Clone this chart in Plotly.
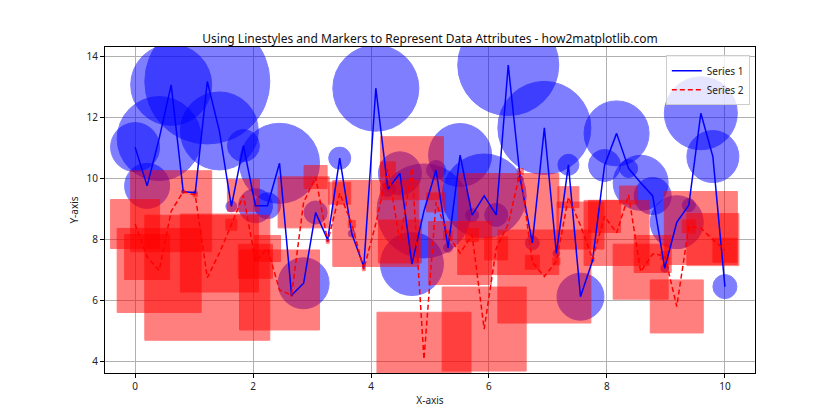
import numpy as np
import plotly.graph_objects as go

# ---- data ----
n_points = 50
x_values = np.linspace(0, 10, n_points)

series1_y = [11.02, 9.75, 11.30, 13.06, 9.56, 9.53, 13.17, 11.55, 9.08, 11.07,
             9.10, 9.10, 10.49, 6.17, 6.56, 8.88, 7.98, 10.66, 8.19, 7.10,
             12.95, 9.65, 10.16, 7.19, 8.93, 10.27, 7.72, 10.76, 8.79, 9.42,
             8.80, 13.71, 9.98, 7.88, 11.65, 7.54, 10.44, 6.12, 7.30, 10.42,
             11.47, 10.32, 9.85, 9.42, 7.05, 8.56, 9.12, 12.13, 10.71, 6.45]

series2_y = [8.50, 7.42, 6.98, 8.92, 9.56, 9.45, 6.74, 7.55, 8.48, 9.44,
             7.28, 7.70, 6.34, 6.17, 9.21, 10.04, 7.92, 9.51, 8.50, 7.02,
             8.52, 10.29, 7.93, 10.33, 4.07, 9.21, 8.13, 7.55, 8.14, 5.06,
             7.70, 8.50, 10.22, 7.25, 6.78, 7.28, 9.38, 8.45, 7.36, 8.75,
             8.21, 9.45, 6.94, 7.52, 7.47, 5.80, 8.42, 8.37, 7.99, 7.64]

# bubble sizes (shared by both series)
bubble_sizes = [49, 45, 84, 81, 3, 4, 125, 78, 11, 32,
                34, 26, 80, 2, 51, 23, 3, 22, 7, 3,
                86, 15, 43, 63, 94, 19, 9, 63, 13, 84,
                23, 101, 6, 14, 93, 7, 21, 47, 3, 32,
                65, 18, 55, 37, 8, 53, 13, 73, 52, 24]

series_names = ["Series 1", "Series 2"]
x_ticks = [0, 2, 4, 6, 8, 10]
y_ticks = [4, 6, 8, 10, 12, 14]

FONT = "Noto Sans"

fig = go.Figure()

# markers (drawn beneath lines, as in matplotlib)
fig.add_trace(go.Scatter(
    x=x_values, y=series1_y, mode="markers", showlegend=False, hoverinfo="skip",
    marker=dict(symbol="circle", size=bubble_sizes, sizemode="diameter",
                color="#0000ff", opacity=0.5, line=dict(color="#0000ff", width=1)),
))
fig.add_trace(go.Scatter(
    x=x_values, y=series2_y, mode="markers", showlegend=False, hoverinfo="skip",
    marker=dict(symbol="square", size=bubble_sizes, sizemode="diameter",
                color="#ff0000", opacity=0.5, line=dict(color="#ff0000", width=1)),
))
# lines
fig.add_trace(go.Scatter(
    x=x_values, y=series1_y, mode="lines", name=series_names[0],
    line=dict(color="#0000ff", width=1.5, dash="solid"),
))
fig.add_trace(go.Scatter(
    x=x_values, y=series2_y, mode="lines", name=series_names[1],
    line=dict(color="#ff0000", width=1.5, dash="5px,3px"),
))

axis_common = dict(
    showline=True, linecolor="black", linewidth=1, mirror=True,
    ticks="outside", ticklen=4, tickcolor="black",
    showgrid=True, gridcolor="#b0b0b0", gridwidth=0.8,
    zeroline=False, tickfont=dict(family=FONT, size=10, color="#222"),
)

fig.update_layout(
    width=840, height=420,
    paper_bgcolor="white", plot_bgcolor="white",
    margin=dict(l=105, r=85, t=47, b=47),
    font=dict(family=FONT, size=10, color="#222"),
    title=dict(text="Using Linestyles and Markers to Represent Data Attributes - how2matplotlib.com",
               x=0.5, xref="paper", xanchor="center", y=1, yref="paper", yanchor="bottom",
               pad=dict(b=4), font=dict(family=FONT, size=12, color="#111")),
    xaxis=dict(range=[-0.51, 10.51], tickvals=x_ticks,
               title=dict(text="X-axis", standoff=4, font=dict(family=FONT, size=10)),
               **axis_common),
    yaxis=dict(range=[3.62, 14.3], tickvals=y_ticks,
               title=dict(text="Y-axis", standoff=6, font=dict(family=FONT, size=10)),
               **axis_common),
    legend=dict(x=0.992, y=0.975, xanchor="right", yanchor="top",
                bgcolor="rgba(255,255,255,0.8)", bordercolor="#cccccc", borderwidth=1,
                font=dict(family=FONT, size=10), tracegroupgap=0, itemwidth=30),
    showlegend=True,
)

fig.write_html("out.html", config={"displayModeBar": False},
               post_script="document.body.style.margin='0px';")
